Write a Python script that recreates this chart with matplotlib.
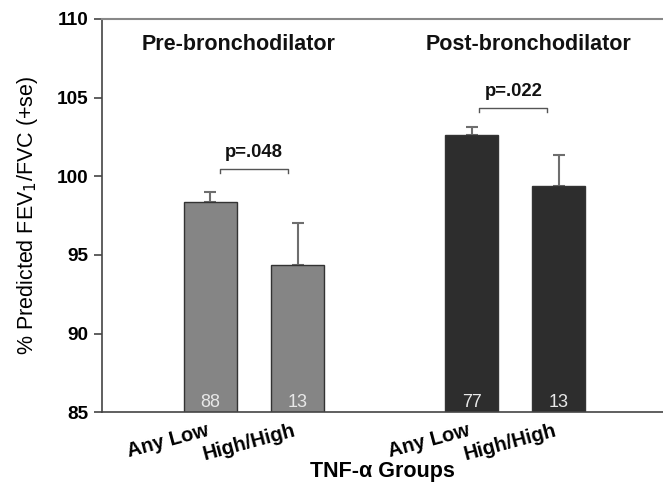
import matplotlib
matplotlib.use('Agg')
import matplotlib.pyplot as plt

# bar data: pre / post bronchodilator, Any Low vs High/High
groups = ['Any Low', 'High/High', 'Any Low', 'High/High']
means = [98.35, 94.38, 102.62, 99.41]
se = [0.63, 2.63, 0.51, 1.92]
counts = ['88', '13', '77', '13']
positions = [0, 1, 3, 4]
colors = ['#858585', '#858585', '#2d2d2d', '#2d2d2d']

panel_titles = ['Pre-bronchodilator', 'Post-bronchodilator']
p_values = ['p=.048', 'p=.022']

plt.rcParams['font.family'] = ['Liberation Sans', 'DejaVu Sans']

fig = plt.figure(figsize=(6.63, 4.83), dpi=100)
ax = fig.add_axes([0.1538, 0.1464, 0.8462, 0.8143])

ax.bar(positions, means, width=0.6, bottom=0, color=colors,
       edgecolor='#333333', linewidth=1.0, zorder=2)
ax.errorbar(positions, means, yerr=[[0] * 4, se], fmt='none',
            ecolor='#6e6e6e', elinewidth=1.5, capsize=4.5, capthick=1.5, zorder=1)

# n in each bar
for x, n in zip(positions, counts):
    ax.text(x, 85.6, n, ha='center', va='center', color='#e8e8e8', fontsize=13)

# panel titles
ax.text(0.32, 108.4, panel_titles[0], ha='center', va='center',
        fontsize=15.5, fontweight='bold', color='#111111')
ax.text(3.65, 108.4, panel_titles[1], ha='center', va='center',
        fontsize=15.5, fontweight='bold', color='#111111')

# significance brackets
brackets = [(0.11, 0.89, 100.48), (3.09, 3.87, 104.36)]
for (x0, x1, y), p in zip(brackets, p_values):
    ax.plot([x0, x0, x1, x1], [y - 0.28, y, y, y - 0.28], color='#555555', lw=1.0)
    ax.text((x0 + x1) / 2, y + 0.75, p, ha='center', va='baseline',
            fontsize=13.3, fontweight='bold', color='#111111')

ax.set_ylim(85, 110)
ax.set_xlim(-1.247, 5.2)
ax.set_yticks([85, 90, 95, 100, 105, 110])
ax.tick_params(axis='y', length=6, width=1.2, color='#444444', labelsize=13.7, pad=4)
for lab in ax.get_yticklabels():
    lab.set_fontweight('bold')
ax.set_xticks(positions)
ax.set_xticklabels(groups, rotation=15, ha='right', fontsize=14.5, fontweight='bold')
ax.tick_params(axis='x', length=0, pad=6)

ax.spines['right'].set_visible(False)
ax.spines['top'].set_color('#888888')
ax.spines['top'].set_linewidth(1.5)
ax.spines['left'].set_color('#444444')
ax.spines['left'].set_linewidth(1.2)
ax.spines['bottom'].set_color('#444444')
ax.spines['bottom'].set_linewidth(1.2)

ax.set_ylabel('% Predicted FEV$_1$/FVC (+se)', fontsize=15.5, labelpad=12)
# x axis title sits right at the bottom edge
fig.text(0.577, 0.003, 'TNF-α Groups', ha='center', va='bottom',
         fontsize=15.5, fontweight='bold')

fig.savefig('out.png', dpi=100)
